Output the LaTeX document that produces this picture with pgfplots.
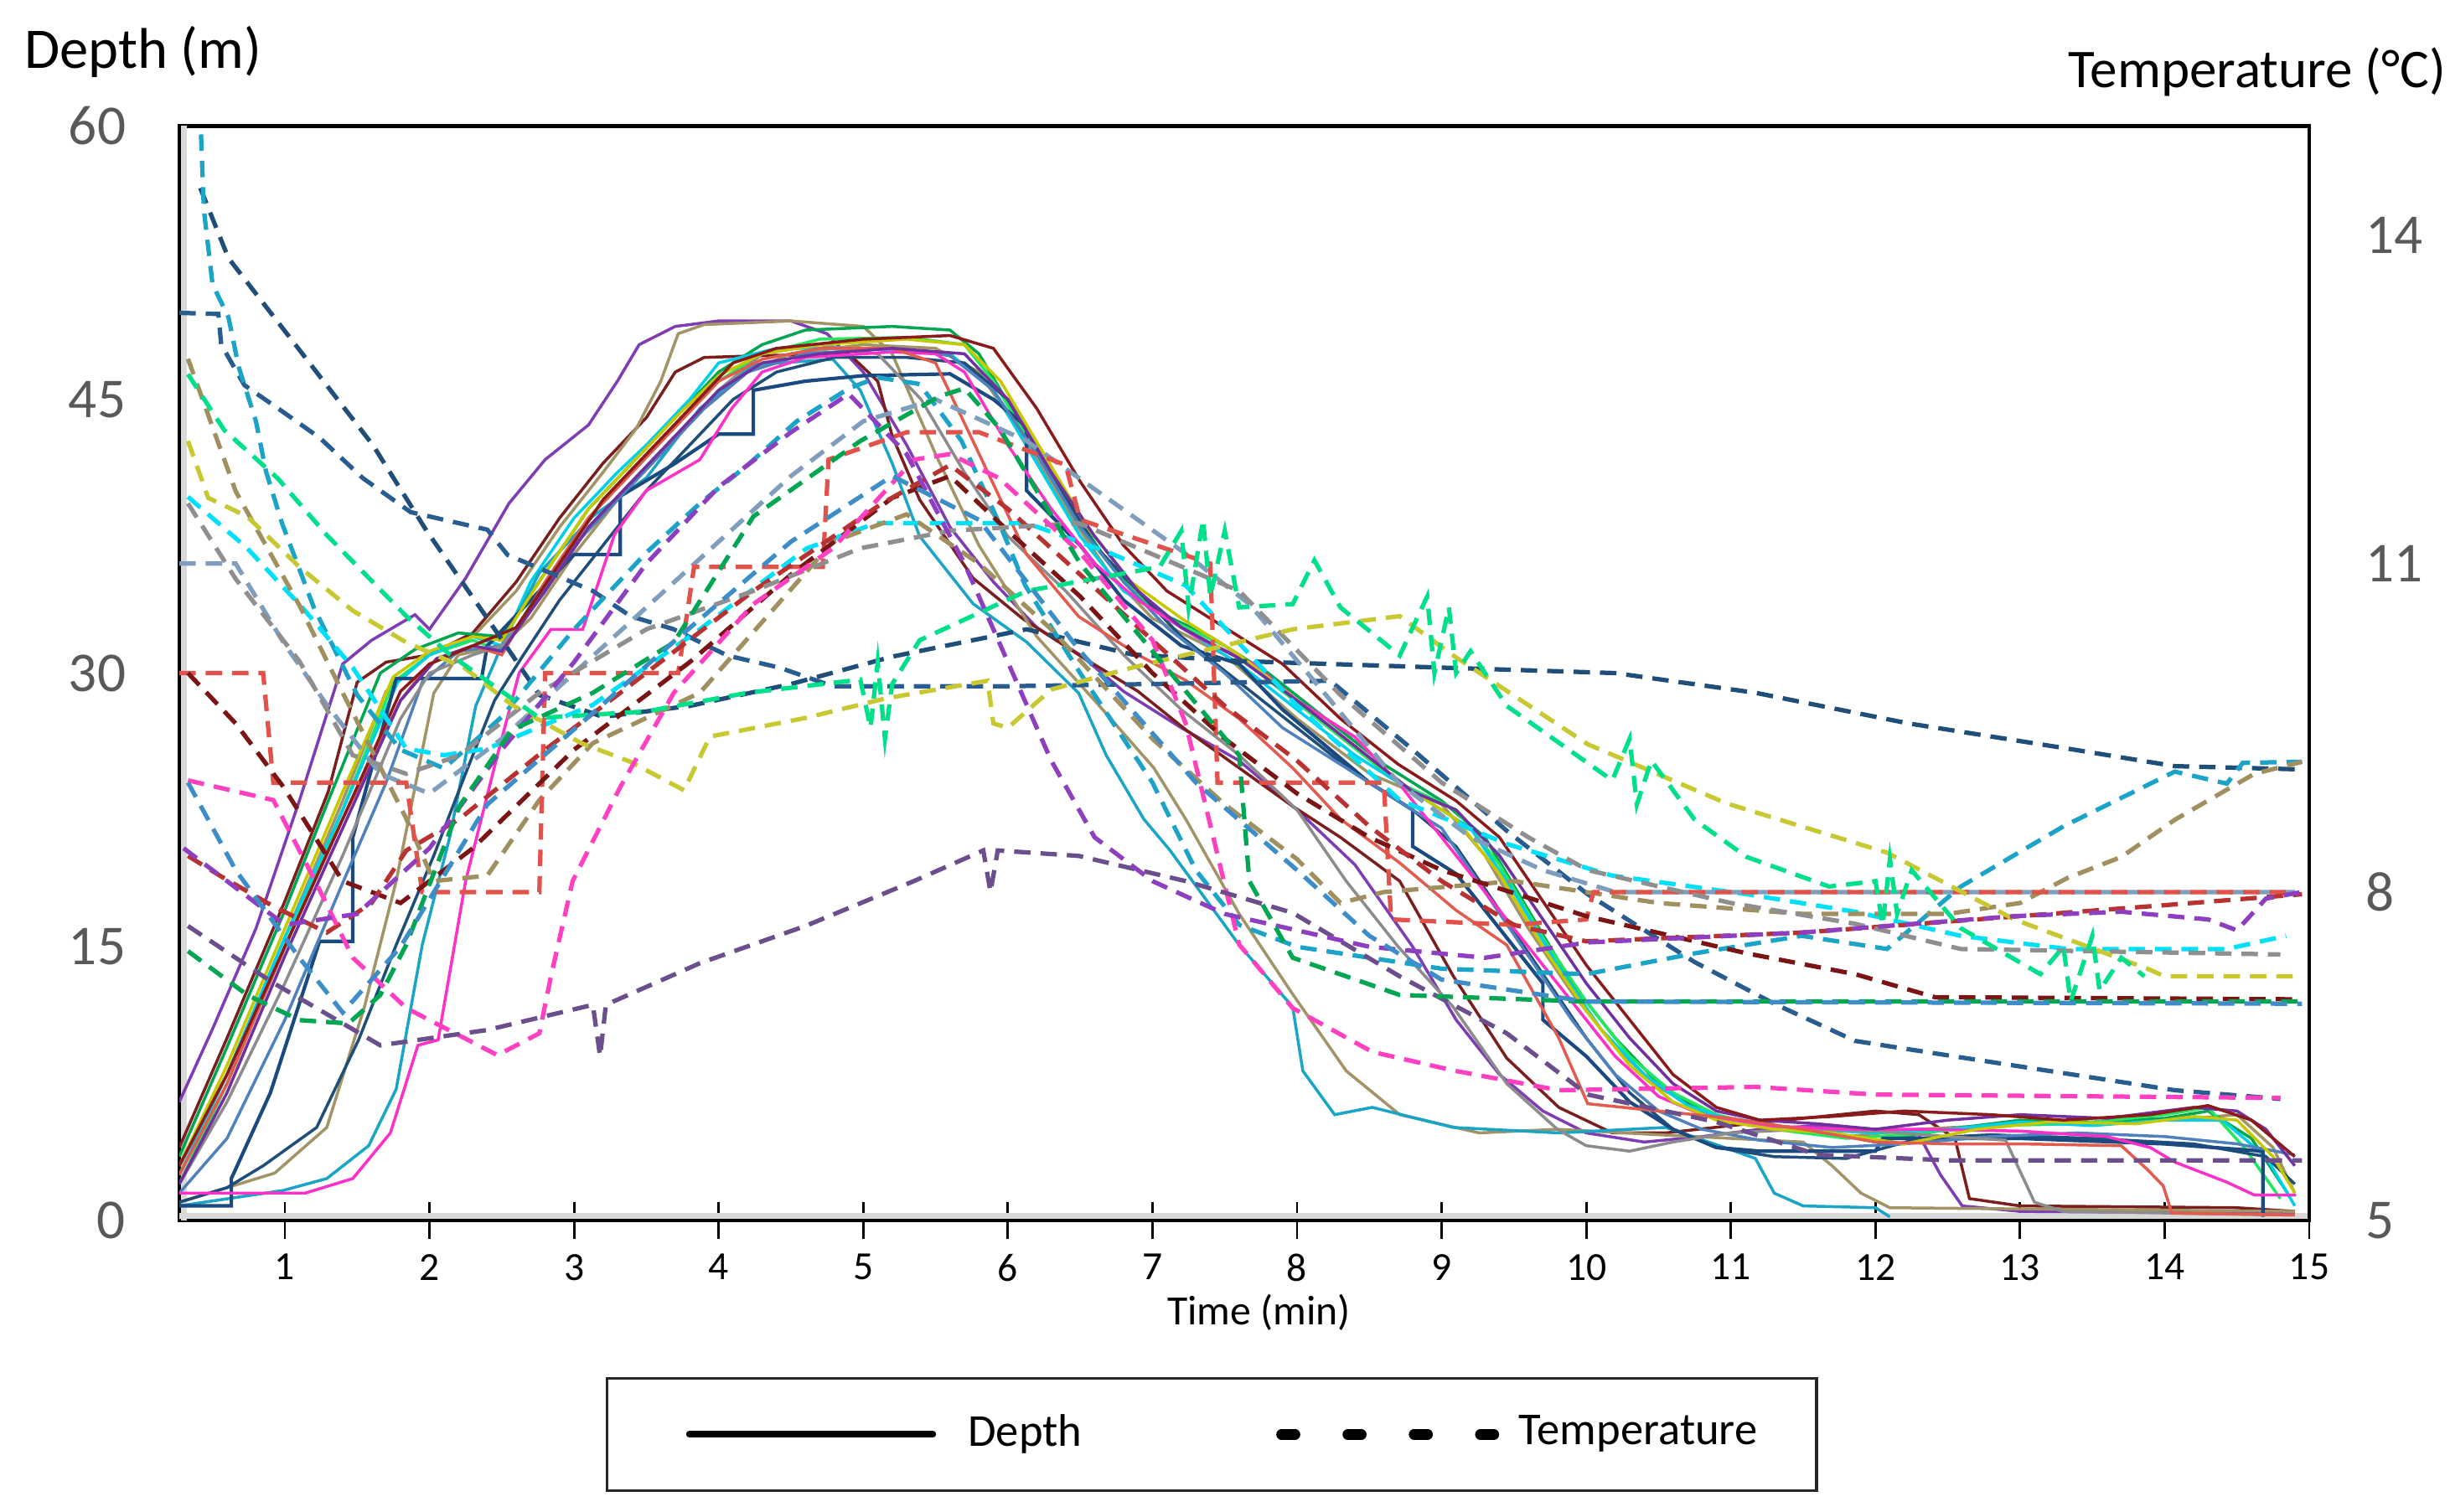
\documentclass[border=0pt]{standalone}
\usepackage{fontspec}
\setmainfont{Carlito}
\usepackage{pgfplots}
\pgfplotsset{compat=1.18}
% depth (solid) colours
\definecolor{dPurple}{HTML}{7E3DB5}
\definecolor{dMaroon}{HTML}{7A1E1E}
\definecolor{dOlive}{HTML}{A39466}
\definecolor{dGreen}{HTML}{00A650}
\definecolor{dSpring}{HTML}{22E860}
\definecolor{dCyan}{HTML}{00CFEA}
\definecolor{dTeal}{HTML}{1AA5C6}
\definecolor{dNavy}{HTML}{1F4E79}
\definecolor{dStep}{HTML}{1A4A80}
\definecolor{dSteel}{HTML}{4F81BD}
\definecolor{dGray}{HTML}{8C8C8C}
\definecolor{dMagenta}{HTML}{FF30C8}
\definecolor{dYellow}{HTML}{C8C800}
\definecolor{dSalmon}{HTML}{E35B4F}
\definecolor{dPurple2}{HTML}{7030A0}
\definecolor{dDarkMaroon}{HTML}{8B1A1A}
% temperature (dashed) colours
\definecolor{tNavy}{HTML}{1F4E79}
\definecolor{tNavy2}{HTML}{2A5D8F}
\definecolor{tTeal}{HTML}{1CA3C8}
\definecolor{tCyan}{HTML}{00E0F8}
\definecolor{tOlive}{HTML}{A09060}
\definecolor{tBlueGray}{HTML}{7F9DBD}
\definecolor{tSalmon}{HTML}{E0524A}
\definecolor{tMaroon}{HTML}{7B1515}
\definecolor{tRed}{HTML}{B83232}
\definecolor{tGray}{HTML}{8F8F8F}
\definecolor{tYellow}{HTML}{C8C832}
\definecolor{tSpring}{HTML}{00E08A}
\definecolor{tPink}{HTML}{FF40C0}
\definecolor{tPurpleLow}{HTML}{6B4F8C}
\definecolor{tPurple}{HTML}{8E3FBF}
\definecolor{tGreen}{HTML}{00A651}
\definecolor{tSteel}{HTML}{3C8DC8}
\definecolor{tickgray}{HTML}{595959}
\pgfplotsset{
  dep/.style={line width=0.5pt, no marks},
  tmp/.style={line width=0.75pt, no marks, dash pattern=on 2.8pt off 1.7pt},
  legdepth/.style={legend image code/.code={\path[draw=none] (0pt,0pt) rectangle (51.5pt,0pt); \draw[##1] (6pt,0pt) -- (47.5pt,0pt);}},
  legtemp/.style={legend image code/.code={\path[draw=none] (0pt,0pt) rectangle (41pt,0pt); \draw[##1] (2.5pt,0pt) -- (40pt,0pt);}},
}
\begin{document}
\begin{tikzpicture}
\useasboundingbox (-30.57pt,-49.57pt) rectangle (387.14pt,208.14pt);
% ---------------- Depth axis ----------------
\begin{axis}[
  at={(0pt,0pt)}, anchor=south west,
  scale only axis, width=363.14pt, height=186.71pt,
  xmin=0.27, xmax=15, ymin=0, ymax=60,
  axis line style={line width=0.7pt, black},
  xtick={1,2,...,15}, xtick pos=left, xtick align=center,
  major tick length=6.4pt,
  x tick style={black, line width=0.4pt},
  ytick={0,15,30,45,60}, ytick pos=left, y tick style={draw=none},
  /pgf/number format/assume math mode=true,
  xticklabel style={font=\fontsize{6.8}{8}\selectfont, black, yshift=1pt},
  yticklabel style={font=\fontsize{9.6}{11}\selectfont, tickgray, xshift=-5.6pt},
  legend columns=2,
  legend style={at={(axis description cs:0.4847,-0.1954)}, anchor=center,
    draw=black!85, line width=0.5pt, font=\fontsize{7.8}{9}\selectfont,
    inner xsep=8.05pt, inner ysep=4.1pt,
    /tikz/every even column/.append style={column sep=29.5pt}},
]
\addlegendimage{legdepth, black, line width=1.15pt, line cap=round, solid}
\addlegendentry{Depth}
\addlegendimage{legtemp, black, line width=1.8pt, line cap=round, dash pattern=on 2.3pt off 9pt}
\addlegendentry{Temperature}

\draw[black!15, line width=1pt] ([yshift=0.85pt]rel axis cs:0,0) -- ([yshift=0.85pt]rel axis cs:1,0);
\draw[black!15, line width=1pt] ([xshift=0.85pt]rel axis cs:0,0) -- ([xshift=0.85pt]rel axis cs:0,1);

% 1 purple
\addplot[dep, dPurple] coordinates {(0.27,6.5)(0.5,10.5)(0.8,16)(1.1,23)(1.4,30.5)(1.6,31.8)(1.9,33.2)(2.0,32.4)(2.25,35.2)(2.55,39.3)(2.8,41.7)(3.1,43.6)(3.3,46)(3.45,48)(3.7,49)(4.0,49.3)(4.5,49.3)(4.75,48.6)(5.0,46.5)(5.3,42.5)(5.6,38)(5.9,35)(6.2,32.5)(6.5,31)(6.8,29)(7.2,27)(7.6,25.2)(8.0,22.5)(8.4,19.5)(8.8,15)(9.1,11)(9.4,8)(9.7,6)(10.0,4.8)(10.4,4.3)(10.8,4.6)(11.2,5)(11.6,5.2)(12.0,5)(12.3,4.7)(12.45,2.5)(12.6,0.8)(13.0,0.5)(14.9,0.4)};
% 2 maroon
\addplot[dep, dMaroon] coordinates {(0.27,4)(0.6,10)(1.0,17.5)(1.3,23.5)(1.5,29.5)(1.7,30.6)(2.0,31)(2.3,32.2)(2.6,35)(2.9,38.5)(3.2,41.5)(3.5,44)(3.7,46.5)(3.9,47.3)(4.3,47.4)(4.9,47.5)(5.1,46)(5.2,43)(5.39,39.5)(5.76,35.2)(6.1,33)(6.49,31)(6.9,29)(7.23,26.9)(7.6,24.8)(7.97,22.7)(8.3,21)(8.71,18.6)(9.08,13.4)(9.45,8.9)(9.81,6.2)(10.18,4.8)(10.55,4.8)(11.0,5.2)(11.5,5.6)(12.0,6)(12.3,5.8)(12.55,4.5)(12.65,1.2)(13.0,0.8)(14.5,0.7)(14.9,0.5)};
% 3 olive early
\addplot[dep, dOlive] coordinates {(0.27,3)(0.6,8)(1.0,15.5)(1.4,23)(1.7,29)(2.0,31)(2.3,32)(2.6,34.5)(2.9,38)(3.2,41)(3.43,43.4)(3.6,46)(3.72,48.6)(3.9,49.1)(4.5,49.3)(5.0,49)(5.2,47.5)(5.5,42)(5.8,37)(6.2,32)(6.6,28.5)(7.01,24.8)(7.23,22)(7.6,16.8)(7.97,12.4)(8.34,8.2)(8.71,5.8)(9.26,4.8)(9.8,5)(10.5,4.7)(11,4.5)(11.5,4.3)(11.7,3)(11.9,1.5)(12.1,0.7)(14.9,0.5)};
% 4 olive late
\addplot[dep, dOlive] coordinates {(0.27,1)(0.93,2.6)(1.29,5.1)(1.55,11.7)(1.77,18.6)(2.03,28.9)(2.2,31)(2.5,31.5)(2.7,33)(3.0,36.5)(3.3,39.5)(3.6,42)(3.9,44.5)(4.2,46.5)(4.5,47.5)(5.0,48)(5.5,47.8)(5.8,46.5)(6.1,43)(6.4,39)(6.7,35.5)(7.0,33)(7.5,31)(8.0,27.5)(8.5,24.5)(9.0,22.8)(9.3,20)(9.6,16)(9.9,12.5)(10.2,9.5)(10.5,7.3)(10.8,6)(11.2,5.2)(11.8,4.6)(12.3,5)(13,5.3)(13.6,5.4)(14.2,5.6)(14.5,5.8)(14.75,4)(14.9,1.5)};
% 5 green
\addplot[dep, dGreen] coordinates {(0.27,3.5)(0.6,9.5)(1.0,17)(1.3,23)(1.66,30)(1.9,31.3)(2.2,32.2)(2.5,32)(2.8,35.5)(3.1,39)(3.4,41.5)(3.7,44)(4.0,46.5)(4.3,48)(4.6,48.8)(5.2,49)(5.6,48.8)(5.8,47.5)(6.1,43.5)(6.4,39.5)(6.7,36)(7.0,33.5)(7.4,32)(7.8,30)(8.2,27.5)(8.6,25)(9.0,23)(9.3,21)(9.6,17)(9.9,13)(10.2,10)(10.5,7.5)(10.8,6)(11.1,5.3)(11.6,5)(12,4.3)(12.5,5)(13,5.5)(13.5,5.4)(14,5.6)(14.3,6)(14.6,4.5)(14.85,1.5)};
% 6 spring green
\addplot[dep, dSpring] coordinates {(0.27,2)(0.6,7.5)(1.0,15)(1.4,22.5)(1.75,29.5)(2.0,31)(2.3,31.8)(2.5,31.2)(2.8,35)(3.1,38.5)(3.4,41)(3.7,43.5)(4.0,46)(4.3,47.5)(4.7,48.3)(5.3,48.4)(5.7,48)(5.9,46)(6.2,42)(6.5,38)(6.8,35)(7.1,33)(7.5,31.5)(7.9,29)(8.3,26.5)(8.7,24)(9.1,22.5)(9.4,19.5)(9.7,15.5)(10.0,12)(10.3,9)(10.6,7)(10.9,5.8)(11.3,5)(11.8,4.5)(12.2,4.7)(12.8,5.2)(13.4,5.3)(14.0,5.8)(14.3,6.2)(14.55,4)(14.8,1.2)};
% 7 bright cyan
\addplot[dep, dCyan] coordinates {(0.27,2.5)(0.6,8)(1.0,15.5)(1.4,22.5)(1.78,29.5)(2.0,31)(2.3,32)(2.5,31.5)(2.7,35)(3.0,38.5)(3.3,41)(3.5,42.5)(3.8,45)(4.0,47)(4.4,47.8)(5.0,47.8)(5.6,47.5)(5.9,45.5)(6.2,41.5)(6.5,37.5)(6.8,34.5)(7.2,32.5)(7.6,30.5)(8.0,28)(8.4,25.5)(8.8,23.5)(9.2,21.5)(9.5,18)(9.8,14)(10.1,10.5)(10.4,8)(10.7,6.3)(11.0,5.5)(11.5,5)(12,4.8)(12.5,5)(13,5.4)(13.5,5.2)(14,5.5)(14.4,5.5)(14.7,3.5)(14.9,0.8)};
% 8 teal (earliest descent)
\addplot[dep, dTeal] coordinates {(0.27,0.8)(0.99,1.65)(1.29,2.3)(1.58,4.1)(1.77,7.2)(1.95,15.1)(2.14,21)(2.32,28.2)(2.51,31.7)(2.76,35.5)(3.13,38.6)(3.5,40.7)(3.87,44.5)(4.24,46.9)(4.79,47.2)(4.98,45.5)(5.2,41.5)(5.39,37.5)(5.76,33.8)(6.13,31.7)(6.49,28.9)(6.68,25.5)(6.94,22)(7.12,20.3)(7.6,15.1)(7.97,11.7)(8.04,8.2)(8.26,5.8)(8.52,6.2)(9.08,5.1)(9.81,4.8)(10.55,5.1)(10.92,4.1)(11.17,3.4)(11.3,1.5)(11.5,0.8)(12.0,0.7)(12.1,0.2)};
% 9 navy
\addplot[dep, dNavy] coordinates {(0.27,1)(0.6,1.8)(0.85,3)(1.22,5.1)(1.51,9.9)(1.77,15.1)(2.03,20)(2.25,24.5)(2.45,28.5)(2.65,31)(2.9,34)(3.2,37)(3.5,40)(3.8,42.5)(4.1,45)(4.4,46.5)(4.8,47.3)(5.3,47.3)(5.7,47)(6.0,45)(6.3,41)(6.6,37)(6.9,34.5)(7.2,32)(7.6,29.5)(8.0,27)(8.4,24.5)(8.8,22.5)(9.1,20.5)(9.4,17)(9.7,13.5)(10.0,10)(10.3,7)(10.6,5)(10.9,4)(11.3,3.5)(11.8,3.4)(12.3,4.5)(12.8,4.7)(13.5,4.5)(14.2,4.2)(14.7,3.5)(14.9,2)};
% 10 step line
\addplot[dep, dStep, line width=0.6pt] coordinates {(0.27,0.8)(0.63,0.8)(0.63,2.3)(0.9,7)(1.24,15.3)(1.47,15.3)(1.47,21)(1.77,29.7)(2.36,29.7)(2.4,31.5)(2.7,34)(3.0,36.5)(3.32,36.5)(3.32,39.7)(3.7,41.5)(4.0,43.1)(4.24,43.1)(4.24,45.5)(4.6,46)(5.0,46.3)(5.6,46.4)(5.9,45)(6.13,43.5)(6.13,40)(6.5,37)(6.8,34)(7.2,31.5)(7.6,30.5)(7.9,28)(8.2,26)(8.5,24)(8.8,22.5)(8.8,20.5)(9.1,19)(9.4,16)(9.7,13)(9.7,11)(10.0,9)(10.3,6.5)(10.6,5)(10.9,4)(11.2,3.8)(12.0,3.8)(12.05,4.5)(13.0,4.5)(14.0,4.2)(14.68,3.8)(14.68,0.2)};
% 11 steel blue
\addplot[dep, dSteel] coordinates {(0.27,1.5)(0.6,4.5)(1.0,11)(1.4,18.5)(1.7,24)(1.95,29.5)(2.2,31.2)(2.5,31.5)(2.7,33.5)(3.0,37)(3.3,39.5)(3.6,42)(3.9,44.5)(4.2,46.5)(4.6,47.5)(5.2,47.8)(5.6,47.4)(5.9,45.5)(6.2,42)(6.5,38)(6.8,35)(7.1,32.5)(7.5,30)(7.9,27)(8.3,25)(8.7,23)(9.0,21.5)(9.3,18)(9.6,14.5)(9.9,11)(10.2,8)(10.5,6)(10.8,5)(11.2,4.4)(11.7,4)(12.2,4.2)(12.8,4.6)(13.4,4.8)(14.0,4.6)(14.5,4.2)(14.9,3.6)};
% 12 gray
\addplot[dep, dGray] coordinates {(0.27,2)(0.6,6.5)(1.0,13)(1.4,20)(1.8,27.5)(2.0,30)(2.3,31)(2.5,31.5)(2.8,34.5)(3.1,38)(3.4,40.5)(3.7,43)(4.0,45.5)(4.3,47.5)(4.7,48)(5.1,47.5)(5.4,45)(5.7,41)(6.0,37.5)(6.4,34.5)(6.8,31)(7.2,28)(7.6,25.5)(8.0,22.5)(8.34,18.6)(8.7,15)(9.08,11.7)(9.45,7.5)(9.8,5)(10.0,4.1)(10.3,3.8)(10.6,4.3)(11.0,4.8)(11.5,5)(12.0,4.9)(12.5,4.6)(12.9,4.4)(13.1,1)(13.3,0.5)(14.9,0.3)};
% 13 magenta
\addplot[dep, dMagenta] coordinates {(0.27,1.5)(1.14,1.5)(1.47,2.3)(1.73,4.8)(1.92,9.6)(2.06,9.9)(2.25,18.6)(2.47,25.5)(2.62,30)(2.84,32.4)(3.06,32.4)(3.28,37.6)(3.5,40)(3.87,41.7)(4.09,44.5)(4.3,46.5)(4.6,47.3)(5.2,47.6)(5.5,47.5)(5.7,46.5)(6.0,42.5)(6.3,39)(6.6,36)(6.9,34)(7.3,32)(7.7,30.5)(8.0,28.5)(8.4,26.5)(8.7,24)(9.0,21)(9.3,18)(9.6,15)(9.9,12)(10.2,9)(10.5,6.8)(10.8,5.8)(11.2,5.2)(11.8,5)(12.3,5)(13.0,4.9)(13.6,4.6)(13.9,4)(14.07,3.2)(14.43,2.1)(14.62,1.4)(14.91,1.4)};
% 14 yellow
\addplot[dep, dYellow] coordinates {(0.27,3)(0.6,8.5)(1.0,16)(1.4,23.5)(1.75,29.8)(2.0,31.2)(2.3,32)(2.5,31.8)(2.8,35.5)(3.1,39)(3.4,41.5)(3.7,44)(4.0,46.3)(4.3,47.5)(4.7,48)(5.3,48.3)(5.7,48)(5.95,46)(6.25,42)(6.55,38)(6.85,35)(7.2,33)(7.6,31)(8.0,28.5)(8.4,26)(8.8,23.5)(9.1,22)(9.4,19)(9.7,15)(10.0,11.5)(10.3,8.5)(10.6,6.5)(10.9,5.5)(11.3,5)(11.7,4.8)(12.2,4.2)(12.7,5)(13.2,5.4)(13.8,5.3)(14.2,5.7)(14.5,5.5)(14.75,3.5)(14.9,1.5)};
% 15 salmon
\addplot[dep, dSalmon] coordinates {(0.27,2.5)(0.6,7.5)(1.0,15)(1.4,22)(1.8,28.5)(2.0,30.5)(2.3,31.5)(2.5,31)(2.8,35)(3.1,38.5)(3.4,41)(3.7,43.5)(4.0,46)(4.3,47.2)(4.7,47.8)(5.2,47.8)(5.5,47)(5.76,42.7)(6.13,36.5)(6.49,33.1)(6.9,31)(7.23,29.6)(7.6,27.5)(7.97,24.8)(8.3,22)(8.71,19.6)(9.1,17)(9.45,15.1)(9.81,10)(10.01,6.4)(10.5,6)(11,5.6)(11.5,5)(12.0,4.3)(12.5,4.2)(13.0,4.2)(13.7,4.1)(13.88,2.8)(13.99,1.9)(14.05,0.4)(14.9,0.3)};
% 16 late purple
\addplot[dep, dPurple2] coordinates {(0.27,2)(0.6,7)(1.0,14.5)(1.4,21.5)(1.8,28.5)(2.05,30.8)(2.3,31.5)(2.5,31.2)(2.8,34.5)(3.1,38)(3.4,40.5)(3.7,43)(4.0,45.5)(4.3,47)(4.7,47.5)(5.2,47.8)(5.7,47.5)(6.0,45)(6.3,41)(6.6,37.5)(6.9,34.5)(7.2,32.5)(7.6,30.8)(8.0,28.5)(8.4,26)(8.8,23.5)(9.1,22.5)(9.4,20)(9.7,16.5)(10.0,13)(10.3,10)(10.6,7.5)(10.9,6)(11.2,5.5)(11.6,5.3)(12.0,5)(12.5,5.5)(13.0,5.8)(13.6,5.6)(14.2,6.2)(14.5,6)(14.7,5)(14.9,3)};
% 17 dark maroon
\addplot[dep, dDarkMaroon] coordinates {(0.27,3)(0.6,8)(1.0,15)(1.4,22)(1.8,29)(2.0,30.5)(2.3,31.5)(2.6,32.5)(2.9,36)(3.2,39.5)(3.5,42)(3.8,44.5)(4.1,47)(4.4,47.8)(5.0,48.3)(5.6,48.5)(5.9,47.8)(6.2,44.5)(6.5,40.5)(6.8,37)(7.1,34.5)(7.5,32.5)(7.9,30.5)(8.3,27.5)(8.7,25)(9.1,23)(9.4,21)(9.7,17.5)(10.0,14)(10.3,11)(10.6,8)(10.9,6.2)(11.2,5.5)(11.7,5.7)(12.2,6)(12.8,5.8)(13.3,5.5)(13.9,5.8)(14.3,6.3)(14.6,5.5)(14.9,3.5)};
\end{axis}
% ---------------- Temperature axis ----------------
\begin{axis}[
  at={(0pt,0pt)}, anchor=south west,
  scale only axis, width=363.14pt, height=186.71pt,
  xmin=0.27, xmax=15, ymin=5, ymax=15,
  axis x line=none, axis y line*=right,
  axis line style={line width=0.7pt, black},
  ytick={5,8,11,14}, y tick style={draw=none},
  /pgf/number format/assume math mode=true,
  yticklabel style={font=\fontsize{9.6}{11}\selectfont, tickgray, xshift=6.1pt},
]
\addplot[tmp, tNavy] coordinates {(0.415,14.43)(0.61,13.79)(1.09,12.97)(1.61,12.08)(1.98,11.30)(2.4,10.5)(2.76,9.8)(3.2,9.6)(3.8,9.7)(4.5,9.9)(5.2,10.15)(6.13,10.4)(6.86,10.17)(7.6,10.11)(9.0,10.05)(10.2,10.0)(11.17,9.82)(12.23,9.54)(13.33,9.31)(14.07,9.15)(14.95,9.12)};
\addplot[tmp, tNavy2] coordinates {(0.27,13.29)(0.54,13.28)(0.56,13.0)(0.72,12.63)(0.95,12.42)(1.24,12.15)(1.54,11.78)(1.87,11.47)(2.2,11.37)(2.4,11.31)(2.54,11.08)(3.13,10.75)(3.39,10.52)(3.69,10.40)(4.06,10.16)(4.42,10.05)(4.79,9.88)(6.0,9.88)(7.0,9.9)(8.23,9.93)(8.8,9.3)(9.45,8.56)(10.01,7.98)(10.75,7.36)(11.3,6.98)(11.86,6.64)(12.59,6.49)(13.33,6.34)(14.07,6.19)(14.8,6.11)};
\addplot[tmp, tTeal] coordinates {(0.42,14.92)(0.44,14.23)(0.5,13.55)(0.61,13.25)(0.68,12.8)(0.8,12.3)(0.87,11.84)(0.98,11.37)(1.2,10.6)(1.5,9.8)(1.8,9.3)(2.1,9.13)(2.5,9.6)(3.0,10.4)(3.5,11.1)(3.87,11.55)(4.2,11.9)(4.54,12.3)(4.9,12.6)(5.1,12.7)(5.39,12.64)(5.68,12.12)(5.94,11.37)(6.12,10.8)(6.5,10.0)(7.0,9.0)(7.3,8.2)(7.6,7.7)(8.0,7.5)(8.5,7.4)(9.0,7.3)(10.0,7.25)(10.75,7.44)(11.49,7.6)(12.08,7.48)(12.59,8.05)(13.3,8.6)(14.07,9.1)(14.43,8.99)(14.54,9.18)(14.95,9.19)};
\addplot[tmp, tCyan] coordinates {(0.33,11.61)(0.74,11.14)(1.14,10.57)(1.47,10.05)(1.84,9.31)(2.1,9.25)(2.4,9.31)(3.13,9.71)(3.87,10.40)(4.61,11.14)(5.09,11.37)(5.39,11.37)(6.13,11.37)(6.7,11.1)(7.23,10.8)(8.0,9.7)(8.71,8.84)(9.45,8.44)(10.18,8.15)(11.11,7.98)(11.86,7.82)(12.59,7.6)(13.33,7.48)(14.43,7.48)(14.84,7.6)};
\addplot[tmp, tOlive] coordinates {(0.33,12.87)(0.66,11.66)(1.1,10.62)(1.4,9.82)(1.84,8.67)(2.03,8.10)(2.4,8.15)(2.76,8.84)(3.13,9.36)(3.87,9.82)(4.79,11.2)(5.3,11.45)(5.8,11.0)(6.3,10.4)(7.0,9.4)(7.5,8.8)(8.0,8.3)(8.3,7.9)(8.6,8.0)(9.5,8.1)(10.5,7.9)(11.5,7.8)(12.5,7.8)(13.0,7.9)(13.33,8.13)(13.7,8.32)(14.07,8.66)(14.62,9.08)(14.95,9.19)};
\addplot[tmp, tBlueGray] coordinates {(0.27,11.0)(0.66,11.0)(0.99,10.28)(1.29,9.71)(1.66,9.08)(2.0,8.9)(2.5,9.4)(3.0,10.0)(3.5,10.6)(4.0,11.2)(4.5,11.8)(5.0,12.3)(5.5,12.5)(6.13,12.12)(7.23,11.09)(7.67,10.63)(8.2,9.8)(8.7,9.0)(9.2,8.5)(9.7,8.2)(10.2,8.0)(14.9,8.0)};
\addplot[tmp, tSalmon] coordinates {(0.27,10.0)(0.85,10.0)(0.92,9.0)(1.84,9.0)(1.95,8.0)(2.76,8.0)(2.8,10.0)(3.72,10.0)(3.83,10.97)(4.72,10.97)(4.76,11.95)(5.3,12.2)(5.8,12.2)(6.4,11.9)(6.5,11.4)(7.4,11.0)(7.45,9.0)(8.6,9.0)(8.65,7.75)(9.5,7.7)(10.0,7.75)(10.05,8.0)(14.9,8.0)};
\addplot[tmp, tMaroon] coordinates {(0.33,10.0)(0.66,9.54)(0.99,8.96)(1.4,8.1)(1.8,7.9)(2.3,8.4)(3.0,9.3)(3.8,10.1)(4.5,10.9)(5.2,11.6)(5.6,11.8)(6.0,11.3)(6.5,10.7)(7.0,10.0)(7.5,9.4)(8.0,8.9)(8.5,8.5)(9.0,8.2)(10.0,7.78)(11.11,7.44)(11.86,7.25)(12.41,7.04)(14.95,7.02)};
\addplot[tmp, tRed] coordinates {(0.33,8.33)(0.55,8.15)(0.92,7.87)(1.29,7.63)(1.6,7.9)(1.84,8.38)(2.21,8.67)(2.8,9.3)(3.32,9.82)(4.24,10.75)(5.13,11.55)(5.6,11.9)(6.0,11.5)(6.5,10.9)(7.0,10.3)(7.5,9.7)(8.0,9.2)(8.5,8.6)(9.0,8.1)(9.5,7.7)(10.0,7.55)(11.5,7.63)(13.0,7.78)(14.0,7.88)(14.95,7.98)};
\addplot[tmp, tGray] coordinates {(0.33,11.55)(0.66,10.86)(1.1,10.11)(1.47,9.25)(1.84,9.08)(2.21,9.25)(2.76,9.82)(3.5,10.40)(4.24,10.75)(4.98,11.14)(5.6,11.3)(6.49,11.37)(7.6,10.75)(8.3,9.8)(9.0,9.0)(9.6,8.5)(10.01,8.2)(11.0,7.9)(11.86,7.71)(12.59,7.48)(14.8,7.43)};
\addplot[tmp, tYellow] coordinates {(0.33,12.12)(0.47,11.6)(0.74,11.43)(1.1,10.97)(1.47,10.57)(1.84,10.28)(2.24,10.05)(2.57,9.71)(3.05,9.36)(3.39,9.19)(3.76,8.93)(3.94,9.42)(4.60,9.59)(5.16,9.77)(5.86,9.93)(5.9,9.54)(6.0,9.5)(6.3,9.85)(6.86,10.05)(7.97,10.4)(8.71,10.52)(9.08,10.16)(10.01,9.35)(10.97,8.81)(12.08,8.36)(12.96,7.75)(13.88,7.30)(14.0,7.23)(14.95,7.23)};
\addplot[tmp, tSpring] coordinates {(0.33,12.73)(0.58,12.22)(0.95,11.78)(1.29,11.26)(1.84,10.52)(2.14,10.17)(2.76,9.59)(3.5,9.65)(4.2,9.82)(4.98,9.94)(5.05,9.5)(5.1,10.1)(5.15,9.4)(5.2,9.9)(5.39,10.3)(6.13,10.75)(7.05,10.97)(7.2,11.3)(7.25,10.6)(7.35,11.4)(7.4,10.7)(7.5,11.3)(7.6,10.6)(7.97,10.63)(8.12,11.03)(8.3,10.6)(8.71,10.16)(8.9,10.7)(8.95,10.0)(9.05,10.6)(9.1,10.0)(9.2,10.2)(9.45,9.7)(10.18,9.02)(10.3,9.4)(10.35,8.8)(10.45,9.2)(10.75,8.66)(11.11,8.32)(11.68,8.05)(12.0,8.1)(12.05,7.7)(12.1,8.3)(12.15,7.8)(12.25,8.2)(12.59,7.67)(13.14,7.25)(13.3,7.5)(13.35,7.0)(13.5,7.6)(13.55,7.1)(13.7,7.4)(13.86,7.23)};
\addplot[tmp, tPink] coordinates {(0.33,9.02)(0.92,8.84)(1.21,8.1)(1.47,7.4)(1.84,6.94)(2.47,6.51)(2.76,6.71)(2.84,7.23)(2.99,8.1)(3.32,8.96)(3.69,9.82)(4.24,10.63)(4.79,11.14)(5.35,11.95)(5.6,12.0)(5.94,11.78)(6.5,11.1)(7.0,10.3)(7.23,9.54)(7.6,7.52)(7.97,6.94)(8.52,6.54)(9.08,6.37)(9.81,6.19)(11.17,6.22)(12.0,6.15)(14.8,6.12)};
\addplot[tmp, tPurpleLow] coordinates {(0.33,7.69)(0.92,7.17)(1.66,6.6)(2.4,6.74)(3.13,6.97)(3.18,6.5)(3.22,6.97)(3.87,7.35)(4.6,7.69)(5.35,8.1)(5.83,8.38)(5.88,8.0)(5.93,8.38)(6.49,8.33)(7.23,8.1)(7.97,7.81)(8.71,7.23)(9.45,6.71)(10.01,6.15)(10.9,5.9)(11.6,5.6)(12.5,5.55)(14.95,5.55)};
\addplot[tmp, tPurple] coordinates {(0.3,8.4)(0.7,8.0)(1.0,7.7)(1.5,7.8)(2.0,8.4)(2.5,9.3)(3.0,10.1)(3.5,11.0)(4.0,11.7)(4.5,12.2)(4.9,12.55)(5.3,12.0)(5.7,11.0)(6.0,10.1)(6.3,9.2)(6.6,8.5)(7.0,8.1)(7.5,7.8)(8.5,7.5)(9.3,7.4)(10.01,7.54)(11.49,7.63)(12.96,7.78)(13.7,7.82)(14.3,7.75)(14.5,7.65)(14.7,7.94)(14.95,8.0)};
\addplot[tmp, tGreen] coordinates {(0.33,7.46)(0.74,7.06)(1.1,6.83)(1.44,6.8)(1.66,7.06)(1.84,7.52)(2.21,8.79)(2.57,9.48)(3.13,9.82)(3.69,10.28)(4.24,11.43)(4.98,12.12)(5.53,12.53)(5.7,12.6)(5.94,12.24)(6.5,11.0)(7.0,10.2)(7.6,9.25)(7.67,8.1)(7.97,7.40)(8.71,7.06)(10.0,7.0)(14.95,7.0)};
\addplot[tmp, tSteel] coordinates {(0.33,9.0)(0.66,8.2)(1.1,7.4)(1.4,6.9)(1.8,7.5)(2.4,8.8)(3.1,9.6)(3.7,10.3)(4.5,11.2)(5.2,11.8)(5.8,11.4)(6.5,10.2)(7.3,9.0)(8.0,8.2)(8.5,7.6)(9.0,7.2)(10.0,7.0)(14.95,6.98)};
\end{axis}
\node[anchor=west, inner sep=0pt, font=\fontsize{9.8}{11}\selectfont] at (-26.6pt,199.3pt) {Depth (m)};
\node[anchor=east, inner sep=0pt, font=\fontsize{9.3}{11}\selectfont] at (386.6pt,195.9pt) {Temperature (°C)};
\node[font=\fontsize{7.1}{8.5}\selectfont] at (184.1pt,-15.7pt) {Time (min)};
\end{tikzpicture}
\end{document}
